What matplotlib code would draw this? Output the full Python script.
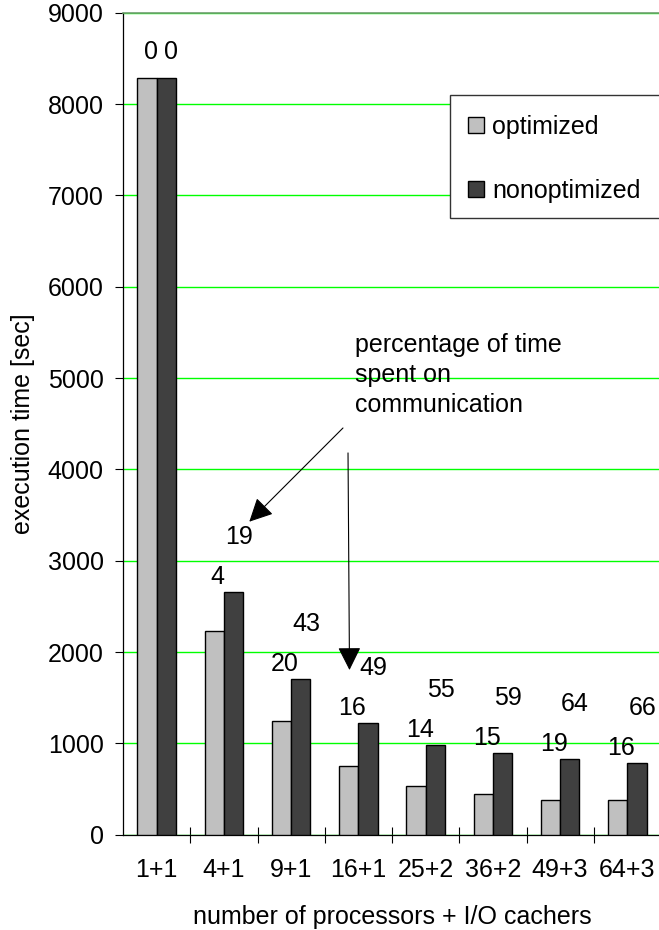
import numpy as np
import matplotlib.pyplot as plt
from matplotlib.patches import Rectangle

plt.rcParams['font.family'] = ['Liberation Sans', 'DejaVu Sans']

# 处理器 + I/O 缓存数量
configs = ['1+1', '4+1', '9+1', '16+1', '25+2', '36+2', '49+3', '64+3']
# 执行时间 [秒]
time_optimized = [8280, 2230, 1248, 755, 530, 442, 377, 377]
time_nonoptimized = [8280, 2654, 1708, 1223, 985, 895, 826, 782]
# 通信时间所占百分比
comm_optimized = [0, 4, 20, 16, 14, 15, 19, 16]
comm_nonoptimized = [0, 19, 43, 49, 55, 59, 64, 66]

W, H = 659, 930
fig = plt.figure(figsize=(W / 100, H / 100), dpi=100)

# 坐标区位置（像素）
ax_l, ax_r, ax_t, ax_b = 123, 661, 12.7, 834.7
ax = fig.add_axes([ax_l / W, 1 - ax_b / H, (ax_r - ax_l) / W, (ax_b - ax_t) / H])

x = np.arange(len(configs))
bw = 0.287
ax.bar(x - bw / 2, time_optimized, bw, color='#c0c0c0', edgecolor='black',
       linewidth=1.0, label='optimized', zorder=3)
ax.bar(x + bw / 2, time_nonoptimized, bw, color='#404040', edgecolor='black',
       linewidth=1.0, label='nonoptimized', zorder=3)

ax.set_xlim(-0.5, len(configs) - 0.5)
ax.set_ylim(0, 9000)
ax.set_yticks(np.arange(0, 9001, 1000))
ax.yaxis.grid(True, color='#00ff00', linewidth=1.0, zorder=0)
ax.set_axisbelow(True)

# 类别之间的刻度线
ax.set_xticks(x)
ax.set_xticks(x[:-1] + 0.5, minor=True)
ax.set_xticklabels(configs)
ax.tick_params(axis='x', which='major', length=0, pad=17, labelsize=18)
ax.tick_params(axis='x', which='minor', direction='inout', length=11, width=0.8)
ax.tick_params(axis='y', direction='out', length=6, width=0.8, pad=8, labelsize=18)

ax.spines['right'].set_visible(False)
ax.spines['top'].set_color('#6e9e6e')
ax.spines['top'].set_linewidth(1.2)
ax.spines['left'].set_linewidth(0.9)
ax.spines['bottom'].set_linewidth(0.9)

ax.set_xlabel('number of processors + I/O cachers', fontsize=18, labelpad=16)
ax.set_ylabel('execution time [sec]', fontsize=18, labelpad=9)

# 柱顶的通信百分比标注
for i in range(len(configs)):
    if i == 0:
        dy_opt, dy_non = 26, 26
    else:
        dy_opt, dy_non = 15, 55
    ax.annotate(str(comm_optimized[i]), xy=(x[i] - 0.09, time_nonoptimized[i]),
                xytext=(0, dy_opt), textcoords='offset pixels',
                ha='center', va='center', fontsize=18)
    ax.annotate(str(comm_nonoptimized[i]), xy=(x[i] + 0.22, time_nonoptimized[i]),
                xytext=(0, dy_non), textcoords='offset pixels',
                ha='center', va='center', fontsize=18)

ax.text(2.95, 5033, 'percentage of time\nspent on\ncommunication',
        ha='left', va='center', fontsize=18, linespacing=1.3)

arrow_style = '-|>,head_length=0.8,head_width=0.4'
ax.annotate('', xy=(1.378, 3427), xytext=(2.771, 4453),
            arrowprops=dict(arrowstyle=arrow_style, mutation_scale=18,
                            color='black', lw=0.8, shrinkA=0, shrinkB=0))
ax.annotate('', xy=(2.868, 1803), xytext=(2.846, 4180),
            arrowprops=dict(arrowstyle=arrow_style, mutation_scale=18,
                            color='black', lw=0.8, shrinkA=0, shrinkB=0))

# 图例（边框伸出画布右侧）
frame = Rectangle((450 / W, 1 - 217.7 / H), 260 / W, 122.7 / H,
                  transform=fig.transFigure, facecolor='white',
                  edgecolor='#333333', linewidth=1.0, zorder=4, clip_on=False)
ax.add_artist(frame)
leg = ax.legend(loc='upper left', bbox_to_anchor=(468 / W, 1 - 115 / H),
                bbox_transform=fig.transFigure, frameon=False, fontsize=18,
                handlelength=0.62, handleheight=0.62, handletextpad=0.35,
                labelspacing=1.6, borderpad=0, borderaxespad=0)
leg.set_zorder(5)

fig.savefig('out.png', dpi=100)
